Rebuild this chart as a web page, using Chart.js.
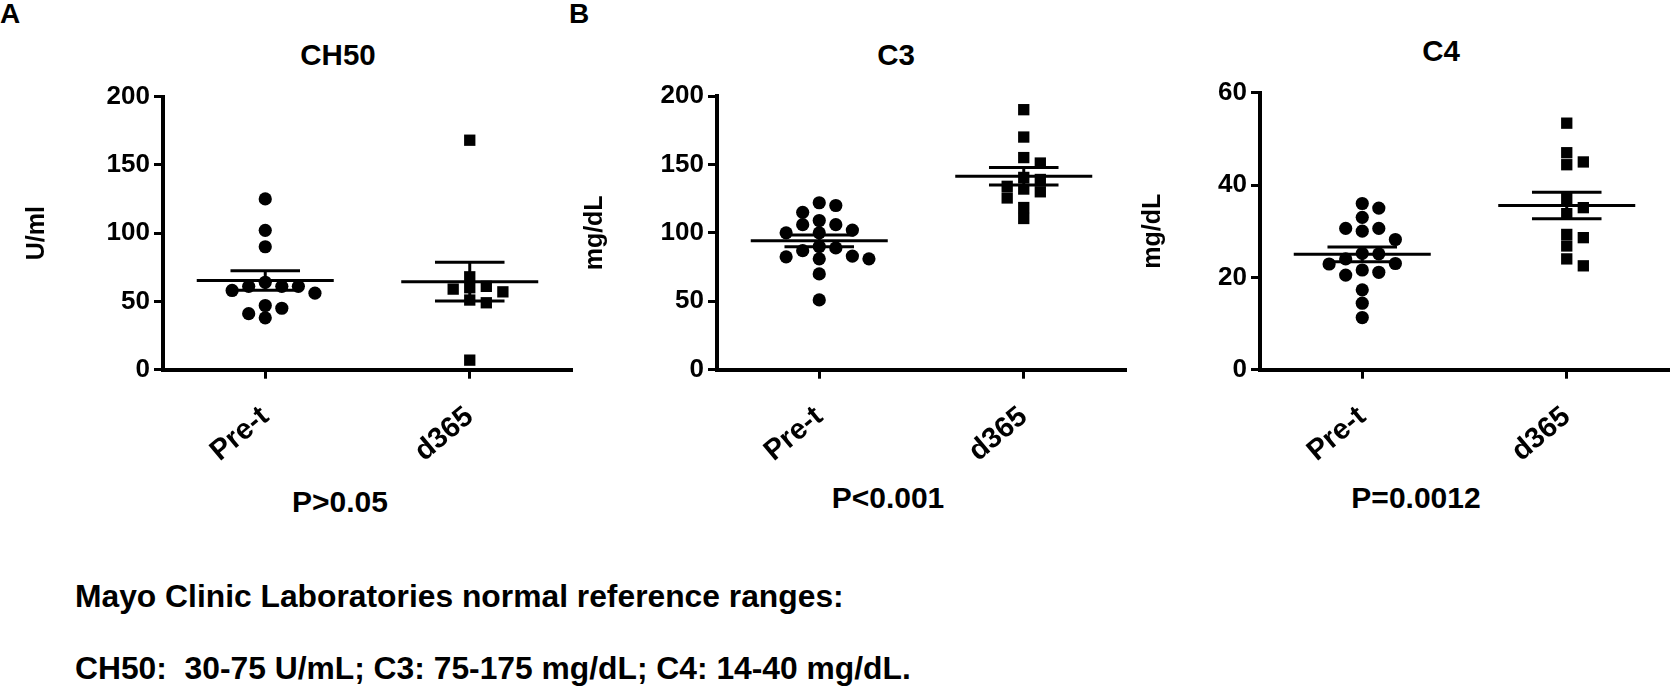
<!DOCTYPE html>
<html>
<head>
<meta charset="utf-8">
<script src="https://cdn.jsdelivr.net/npm/chart.js@4.4.1/dist/chart.umd.min.js"></script>
<style>
html, body { margin: 0; padding: 0; background: #fff; }
body { width: 1680px; height: 687px; position: relative; overflow: hidden;
       font-family: "Liberation Sans", Arial, Helvetica, sans-serif; font-weight: bold; color: #000; }
canvas { position: absolute; top: 0; }
.c { position: absolute; white-space: pre; transform: translate(-50%, -50%); }
.l { position: absolute; white-space: pre; transform: translateY(-50%); }
</style>
</head>
<body>
<div class="l" style="left:0px;top:14px;font-size:28px">A</div>
<div class="c" style="left:579px;top:14px;font-size:28px">B</div>
<div class="c" id="t0" style="left:338px;top:55px;font-size:29.5px"></div>
<div class="c" id="t1" style="left:896px;top:55px;font-size:29.5px"></div>
<div class="c" id="t2" style="left:1441px;top:51px;font-size:29.5px"></div>
<div class="c" id="p0" style="left:340px;top:502px;font-size:30px"></div>
<div class="c" id="p1" style="left:888px;top:498px;font-size:30px"></div>
<div class="c" id="p2" style="left:1416px;top:498px;font-size:30px"></div>
<div class="l" style="left:75px;top:596px;font-size:31.8px">Mayo Clinic Laboratories normal reference ranges:</div>
<div class="l" style="left:75px;top:668px;font-size:31.8px">CH50:  30-75 U/mL; C3: 75-175 mg/dL; C4: 14-40 mg/dL.</div>

<canvas id="cA" width="580" height="480" style="left:0px"></canvas>
<canvas id="cB" width="554" height="480" style="left:580px"></canvas>
<canvas id="cC" width="546" height="480" style="left:1134px"></canvas>

<script>
// Groups and panel labels
const groups = ["Pre-t", "d365"];
const panelTitles = ["CH50", "C3", "C4"];
const yTitles = ["U/ml", "mg/dL", "mg/dL"];
const pLabels = ["P>0.05", "P<0.001", "P=0.0012"];

// y axis ranges / tick steps
const yMaxes = [200, 200, 60];
const ySteps = [50, 50, 20];

// Values
const ch50Pre = [125, 102, 90, 64, 61, 61, 61, 58, 56, 47, 45, 41, 38];
const ch50D365 = [168, 68, 61, 60, 59, 57, 51, 49, 7];
const c3Pre = [122, 120, 115, 109, 106, 106, 102, 100, 100, 90, 89, 87, 83, 82.5, 81, 81, 70, 51];
const c3D365 = [190, 170, 155, 151, 140.5, 139, 134, 132, 130, 125.5, 118.5, 110.5];
const c4Pre = [36, 35, 33, 30.6, 30.6, 30, 28.2, 25.2, 25.1, 24, 23, 22.9, 21.6, 21.1, 20.5, 17.3, 14.4, 11.3];
const c4D365 = [53.4, 47, 45, 44.4, 37.1, 35.1, 33.8, 29.3, 28.6, 26.8, 24, 22.5];

const seriesByPanel = [[ch50Pre, ch50D365], [c3Pre, c3D365], [c4Pre, c4D365]];

// layout of each panel (pixels)
const panels = [
    { id: "cA", axisW: 163, top: 96.5, right: 8, titlePad: 22 },
    { id: "cB", axisW: 137, top: 96, right: 8, titlePad: 0 },
    { id: "cC", axisW: 126, top: 92.7, right: 11, titlePad: 4 }
];
const CANVAS_H = 480;
const AXIS_Y = 369.7;
const FONT = "'Liberation Sans', Arial, Helvetica, sans-serif";
const SLOT = 0.081;      // horizontal step between side-by-side markers (x units)
const MEAN_HALF = 0.335;
const SEM_HALF = 0.17;

function mean(a) { return a.reduce((s, v) => s + v, 0) / a.length; }
function sem(a) {
    const m = mean(a);
    return Math.sqrt(a.reduce((s, v) => s + (v - m) * (v - m), 0) / (a.length - 1) / a.length);
}

// simple column scatter: put each point in the nearest free column slot
function swarm(vals, yMax, diam) {
    const ppu = (AXIS_Y - 96) / yMax;
    const order = vals.map((v, i) => i).sort((a, b) => vals[b] - vals[a]);
    const slots = new Array(vals.length);
    const placed = [];
    order.forEach(i => {
        for (let k = 0; k < 30; k++) {
            const s = k === 0 ? 0 : (k % 2 ? (k + 1) / 2 : -k / 2);
            const hit = placed.some(p => p.s === s && Math.abs(p.v - vals[i]) * ppu < diam);
            if (!hit) { slots[i] = s; placed.push({ s: s, v: vals[i] }); break; }
        }
    });
    return slots;
}

function lineSet(points) {
    return { data: points, showLine: true, borderColor: "#000", borderWidth: 3,
             pointRadius: 0, fill: false, tension: 0 };
}

function buildDatasets(series, yMax) {
    const sets = [];
    series.forEach((vals, g) => {
        const c = 0.5 + g;
        const slots = swarm(vals, yMax, g ? 10.5 : 11.5);
        sets.push({
            data: vals.map((v, i) => ({ x: c + slots[i] * SLOT, y: v })),
            pointStyle: g ? "rect" : "circle",
            pointRadius: g ? 8 : 6.6,
            backgroundColor: "#000", borderWidth: 0, showLine: false
        });
        const m = mean(vals), s = sem(vals);
        sets.push(lineSet([{ x: c - MEAN_HALF, y: m }, { x: c + MEAN_HALF, y: m }]));
        sets.push(lineSet([{ x: c - SEM_HALF, y: m + s }, { x: c + SEM_HALF, y: m + s }]));
        sets.push(lineSet([{ x: c - SEM_HALF, y: m - s }, { x: c + SEM_HALF, y: m - s }]));
        sets.push(lineSet([{ x: c, y: m - s }, { x: c, y: m + s }]));
    });
    return sets;
}

function makeChart(k) {
    const p = panels[k];
    const ctx = document.getElementById(p.id).getContext("2d");
    new Chart(ctx, {
        type: "scatter",
        data: { datasets: buildDatasets(seriesByPanel[k], yMaxes[k]) },
        options: {
            responsive: false,
            animation: false,
            devicePixelRatio: 1,
            clip: false,
            layout: { padding: { top: p.top, right: p.right, left: 0, bottom: 0 } },
            plugins: { legend: { display: false }, tooltip: { enabled: false } },
            scales: {
                x: {
                    type: "linear", min: 0, max: 2,
                    afterBuildTicks: s => { s.ticks = [{ value: 0.5 }, { value: 1.5 }]; },
                    afterFit: s => { s.height = CANVAS_H - AXIS_Y; },
                    border: { display: true, width: 4, color: "#000" },
                    grid: { drawOnChartArea: false, tickLength: 9, tickWidth: 3, color: "#000" },
                    ticks: {
                        autoSkip: false, minRotation: 40, maxRotation: 40, padding: 21,
                        color: "#000", font: { family: FONT, size: 29, weight: "bold" },
                        callback: (v, i) => groups[i]
                    }
                },
                y: {
                    min: 0, max: yMaxes[k],
                    afterFit: s => { s.width = p.axisW; },
                    border: { display: true, width: 4, color: "#000" },
                    grid: { drawOnChartArea: false, tickLength: 9, tickWidth: 3, color: "#000" },
                    ticks: { stepSize: ySteps[k], padding: 4, color: "#000",
                             font: { family: FONT, size: 26, weight: "bold" } },
                    title: { display: true, text: yTitles[k], color: "#000",
                             font: { family: FONT, size: 25, weight: "bold" },
                             padding: { top: p.titlePad, bottom: 0 } }
                }
            }
        }
    });
}

function initPage() {
    panelTitles.forEach((t, i) => { document.getElementById("t" + i).textContent = t; });
    pLabels.forEach((t, i) => { document.getElementById("p" + i).textContent = t; });
    [0, 1, 2].forEach(makeChart);
}

initPage();
</script>
</body>
</html>
